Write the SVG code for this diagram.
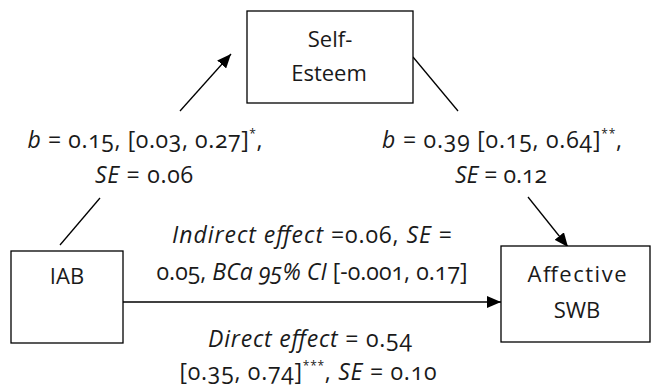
<svg xmlns="http://www.w3.org/2000/svg" width="651" height="388" viewBox="0 0 651 388">
<style>
.box{fill:#fff;stroke:#000;stroke-width:1.3}
.ln{stroke:#000;stroke-width:1.3;fill:none}
text{font-family:"Open Sans","Liberation Sans",sans-serif;font-size:22px;fill:#1a1a1a;text-anchor:middle;font-variant-numeric:oldstyle-nums}
.lbl{font-size:23px}
.sup{font-size:12px}
</style>
<defs>
<marker id="ah" viewBox="0 0 14 12" refX="14" refY="6" markerWidth="14" markerHeight="12" markerUnits="userSpaceOnUse" orient="auto">
<path d="M0,0 L14,6 L0,12 Z" fill="#000"/>
</marker>
</defs>
<g id="connectors">
<line class="ln" x1="60" y1="245" x2="100" y2="198"/>
<line class="ln" x1="180" y1="111" x2="231" y2="54" marker-end="url(#ah)"/>
<line class="ln" x1="413" y1="57" x2="458" y2="111"/>
<line class="ln" x1="528" y1="197" x2="568" y2="247" marker-end="url(#ah)"/>
<line class="ln" x1="123" y1="302" x2="501" y2="302" marker-end="url(#ah)"/>
</g>
<g id="self-esteem">
<rect class="box" x="247" y="11" width="166" height="92"/>
<text x="330" y="47">Self-</text>
<text x="329" y="81">Esteem</text>
</g>
<g id="iab">
<rect class="box" x="11" y="251" width="112" height="92"/>
<text x="67" y="284">IAB</text>
</g>
<g id="affective-swb">
<rect class="box" x="501" y="246" width="149" height="96"/>
<text x="577" y="282" textLength="99" lengthAdjust="spacing">Affective</text>
<text x="577" y="318">SWB</text>
</g>
<g id="labels">
<text class="lbl" x="145" y="148" textLength="235" lengthAdjust="spacing"><tspan font-style="italic">b</tspan> = 0.15, [0.03, 0.27]<tspan class="sup" dy="-10">*</tspan><tspan dy="10">,</tspan></text>
<text class="lbl" x="144" y="183" textLength="98" lengthAdjust="spacing"><tspan font-style="italic">SE</tspan> = 0.06</text>
<text class="lbl" x="502" y="148" textLength="240" lengthAdjust="spacing"><tspan font-style="italic">b</tspan> = 0.39 [0.15, 0.64]<tspan class="sup" dy="-10">**</tspan><tspan dy="10">,</tspan></text>
<text class="lbl" x="501" y="183" textLength="92" lengthAdjust="spacing"><tspan font-style="italic">SE</tspan> = 0.12</text>
<text class="lbl" x="312" y="243" textLength="280" lengthAdjust="spacing"><tspan font-style="italic">Indirect effect</tspan> =0.06, <tspan font-style="italic">SE</tspan> =</text>
<text class="lbl" x="312" y="280" textLength="311" lengthAdjust="spacing">0.05, <tspan font-style="italic">BCa 95% CI</tspan> [-0.001, 0.17]</text>
<text class="lbl" x="310" y="347" textLength="204" lengthAdjust="spacing"><tspan font-style="italic">Direct effect</tspan> = 0.54</text>
<text class="lbl" x="308" y="380" textLength="257" lengthAdjust="spacing">[0.35, 0.74]<tspan class="sup" dy="-10">***</tspan><tspan dy="10">, </tspan><tspan font-style="italic">SE</tspan> = 0.10</text>
</g>
</svg>
